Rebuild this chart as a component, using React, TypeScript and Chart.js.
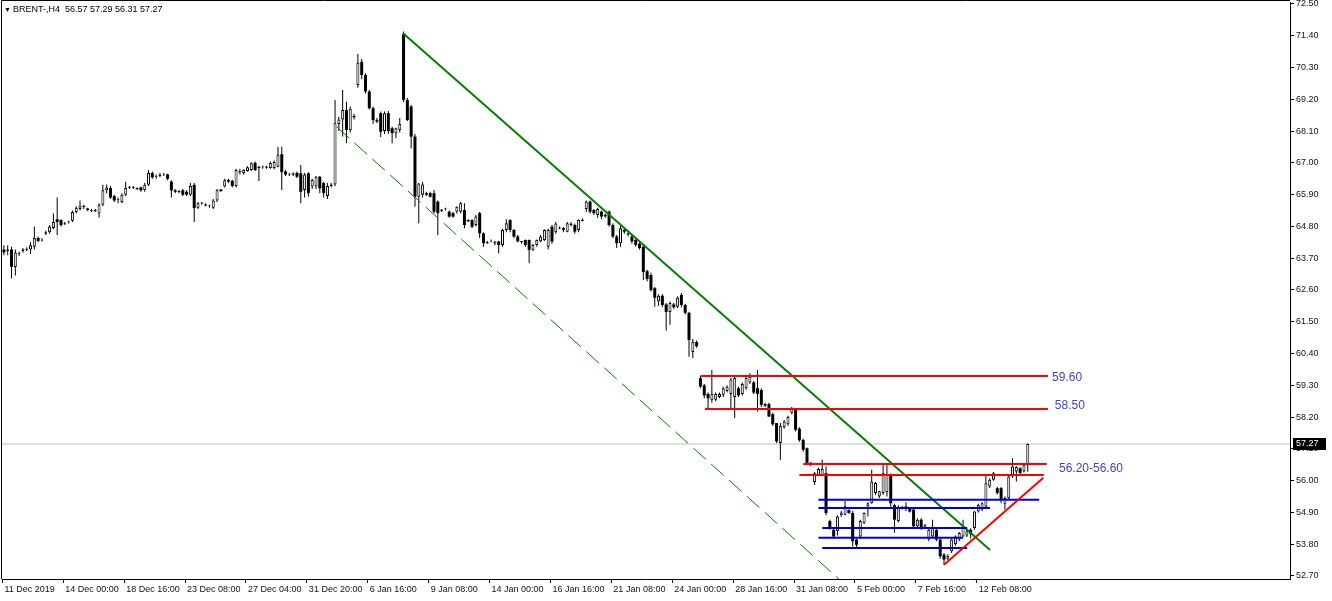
import React, { useEffect, useRef } from "react";
import { Chart, registerables } from "chart.js";

Chart.register(...registerables);

// ---------- DATA (H4 candles) ----------
const OPEN = [
  64.00, 63.95, 64.00, 63.40, 63.85, 63.95, 64.00, 64.00, 64.10, 64.40,
  64.32, 64.55, 64.60, 64.75, 65.05, 65.02, 64.90, 64.95, 65.00, 65.30,
  65.40, 65.50, 65.42, 65.35, 65.35, 65.25, 65.55, 66.05, 66.13, 65.85,
  65.72, 65.65, 65.90, 66.15, 66.15, 66.12, 66.15, 66.05, 66.24, 66.65,
  66.52, 66.55, 66.60, 66.60, 66.35, 66.05, 66.00, 66.05, 66.00, 65.90,
  66.24, 65.45, 65.60, 65.55, 65.50, 65.45, 65.70, 66.08, 66.18, 66.35,
  66.38, 66.20, 66.70, 66.65, 66.72, 66.75, 67.00, 66.85, 66.85, 66.86,
  66.82, 66.82, 66.87, 67.30, 66.70, 66.60, 66.62, 66.65, 66.64, 66.06,
  66.64, 66.18, 66.18, 66.52, 66.30, 65.85, 66.20, 66.25, 68.35, 68.50,
  68.83, 68.14, 68.62, 69.70, 70.50, 70.04, 69.47, 68.89, 68.48, 68.72,
  68.10, 68.72, 68.20, 68.03, 68.14, 71.45, 69.18, 68.95, 67.91, 65.83,
  65.90, 65.95, 65.95, 65.95, 65.66, 65.37, 65.40, 65.31, 65.26, 65.31,
  65.31, 65.37, 65.02, 65.02, 64.85, 65.26, 64.56, 64.25, 64.28, 64.25,
  64.28, 64.16, 64.68, 65.02, 64.68, 64.45, 64.28, 64.33, 64.33, 63.99,
  64.16, 64.28, 64.33, 64.10, 64.79, 64.60, 64.74, 64.74, 64.62, 64.85,
  64.85, 64.68, 65.02, 65.40, 65.66, 65.37, 65.20, 65.31, 65.20, 65.31,
  64.85, 64.45, 64.22, 64.68, 64.55, 64.45, 64.33, 64.20, 64.10, 63.25,
  63.12, 62.66, 62.20, 62.40, 62.10, 61.84, 62.10, 62.02, 62.43, 62.08,
  61.81, 60.45, 60.80, 59.55, 59.30, 59.00, 58.78, 58.80, 58.90, 58.97,
  59.10, 59.00, 58.90, 59.20, 59.00, 59.20, 59.40, 59.40, 59.20, 59.14,
  58.65, 58.65, 58.30, 57.99, 57.30, 57.85, 57.95, 58.35, 58.45, 57.80,
  57.41, 57.12, 56.62, 55.95, 56.20, 56.20, 56.26, 54.60, 54.30, 54.25,
  54.80, 54.82, 54.99, 54.88, 53.96, 54.07, 54.53, 55.11, 55.22, 55.57,
  55.45, 55.57, 55.60, 56.20, 55.15, 54.60, 55.05, 55.10, 55.05, 55.00,
  54.42, 54.65, 54.45, 53.96, 54.07, 54.30, 53.96, 53.44, 53.30, 53.56,
  53.80, 53.96, 54.07, 54.10, 54.30, 54.36, 54.93, 55.00, 55.10, 55.80,
  56.03, 55.74, 55.74, 55.20, 55.39, 56.14, 56.32, 56.43, 56.32, 56.57,
];
const HIGH = [
  64.15, 64.15, 64.10, 64.00, 63.92, 64.05, 64.08, 64.25, 64.80, 64.45,
  64.40, 64.65, 64.85, 65.25, 65.80, 65.05, 64.95, 65.00, 65.35, 65.50,
  65.70, 65.55, 65.45, 65.40, 65.40, 65.60, 66.24, 66.25, 66.20, 65.90,
  65.80, 65.95, 66.35, 66.20, 66.20, 66.15, 66.18, 66.30, 66.75, 66.70,
  66.60, 66.65, 66.65, 66.62, 66.40, 66.10, 66.05, 66.10, 66.05, 66.30,
  66.30, 65.65, 65.65, 65.60, 65.55, 65.75, 66.10, 66.10, 66.45, 66.45,
  66.42, 66.80, 66.80, 66.78, 66.88, 67.02, 67.05, 66.90, 66.90, 66.90,
  67.05, 67.08, 67.55, 67.56, 66.75, 66.65, 66.68, 66.70, 66.93, 66.65,
  66.68, 66.45, 66.55, 66.55, 66.35, 66.30, 66.30, 69.18, 68.60, 69.52,
  69.12, 68.95, 68.70, 70.77, 70.60, 70.10, 69.52, 68.95, 68.55, 68.78,
  68.78, 68.80, 68.25, 68.22, 68.55, 71.55, 69.25, 69.00, 68.00, 66.30,
  66.35, 66.00, 66.00, 66.06, 65.70, 65.40, 65.45, 65.35, 65.30, 65.50,
  65.65, 65.60, 65.05, 65.05, 65.20, 65.30, 64.60, 64.30, 64.35, 64.30,
  64.30, 64.72, 65.05, 65.05, 64.70, 64.50, 64.30, 64.35, 64.35, 64.20,
  64.35, 64.50, 64.70, 64.72, 64.85, 64.95, 64.80, 64.78, 64.95, 64.95,
  64.90, 65.05, 65.08, 65.70, 65.70, 65.40, 65.45, 65.35, 65.25, 65.35,
  64.90, 64.50, 64.85, 64.75, 64.60, 64.50, 64.38, 64.25, 64.15, 63.30,
  63.20, 62.70, 62.45, 62.45, 62.15, 62.20, 62.15, 62.38, 62.50, 62.12,
  61.85, 60.90, 60.85, 59.62, 59.35, 59.05, 59.83, 59.05, 59.05, 59.25,
  59.30, 59.55, 59.60, 59.25, 59.40, 59.60, 59.72, 59.45, 59.83, 59.20,
  58.70, 58.70, 58.35, 58.00, 58.00, 58.10, 58.25, 58.55, 58.50, 57.85,
  57.45, 57.15, 56.65, 56.30, 56.45, 56.72, 56.50, 54.65, 54.35, 54.80,
  54.95, 55.30, 55.00, 54.95, 54.00, 54.65, 54.90, 55.25, 56.38, 55.95,
  55.65, 56.55, 56.60, 56.25, 55.20, 55.15, 55.12, 55.25, 55.08, 55.05,
  54.70, 54.70, 54.50, 54.35, 54.65, 54.35, 54.00, 53.50, 53.45, 54.00,
  54.10, 54.22, 54.65, 54.30, 54.35, 54.95, 55.20, 55.25, 56.20, 56.08,
  56.30, 55.78, 55.78, 55.45, 56.18, 56.78, 56.50, 56.46, 56.58, 57.29,
];
const LOW = [
  63.80, 63.80, 63.00, 63.10, 63.78, 63.90, 63.95, 63.85, 64.00, 64.25,
  64.28, 64.50, 64.55, 64.70, 64.50, 64.80, 64.85, 64.90, 64.95, 65.25,
  65.35, 65.40, 65.33, 65.30, 65.30, 65.10, 65.50, 65.95, 65.75, 65.65,
  65.60, 65.60, 65.85, 66.10, 66.10, 66.05, 66.00, 66.00, 66.20, 66.45,
  66.45, 66.50, 66.55, 66.40, 65.80, 65.95, 65.95, 65.85, 65.85, 65.85,
  64.95, 65.40, 65.55, 65.50, 65.45, 65.40, 65.65, 66.00, 66.15, 66.30,
  66.15, 66.15, 66.60, 66.60, 66.70, 66.72, 66.72, 66.37, 66.80, 66.80,
  66.80, 66.78, 66.85, 66.06, 66.55, 66.55, 66.55, 66.48, 65.60, 65.80,
  65.83, 66.10, 66.10, 65.95, 65.80, 65.75, 66.15, 66.20, 68.10, 67.91,
  67.68, 68.05, 68.50, 69.60, 69.90, 69.40, 68.85, 68.35, 68.38, 67.90,
  68.00, 68.00, 67.68, 67.85, 68.05, 69.10, 68.45, 67.50, 65.48, 64.91,
  65.80, 65.85, 65.80, 65.25, 64.50, 65.30, 65.35, 65.10, 65.10, 65.25,
  65.25, 64.74, 64.95, 64.75, 64.80, 64.40, 64.10, 64.20, 64.25, 64.15,
  63.87, 64.10, 64.60, 64.60, 64.40, 64.25, 64.20, 64.10, 63.53, 63.95,
  64.10, 64.25, 64.30, 64.00, 64.20, 64.55, 64.70, 64.60, 64.60, 64.80,
  64.55, 64.60, 64.98, 65.30, 65.25, 65.20, 65.10, 65.05, 65.10, 64.80,
  64.40, 64.05, 64.10, 64.55, 64.45, 64.20, 64.10, 64.00, 62.95, 62.90,
  62.55, 62.02, 62.05, 62.00, 61.20, 61.40, 61.95, 61.98, 62.00, 61.75,
  60.29, 60.25, 60.60, 59.20, 58.85, 58.50, 58.70, 58.75, 58.85, 58.90,
  59.05, 58.50, 58.16, 58.90, 58.95, 59.15, 59.35, 59.00, 58.39, 58.55,
  58.55, 58.20, 57.90, 57.30, 56.72, 57.80, 57.90, 58.30, 57.70, 57.35,
  57.00, 56.55, 56.50, 55.85, 56.15, 56.15, 54.80, 54.30, 54.00, 54.10,
  54.75, 54.80, 54.85, 53.72, 53.68, 54.00, 54.50, 54.76, 55.20, 55.50,
  55.40, 55.50, 55.45, 55.10, 54.20, 54.55, 55.00, 54.95, 54.90, 54.35,
  54.38, 54.30, 54.40, 53.90, 54.05, 53.90, 53.30, 53.09, 53.25, 53.50,
  53.75, 53.90, 54.05, 54.05, 54.00, 54.30, 54.90, 54.95, 55.05, 55.75,
  56.00, 55.52, 55.22, 55.00, 55.35, 56.10, 55.97, 56.22, 56.28, 56.31,
];
const CLOSE = [
  63.90, 64.00, 63.40, 63.90, 63.87, 64.00, 64.02, 64.15, 64.40, 64.30,
  64.33, 64.60, 64.80, 64.95, 64.95, 64.85, 64.92, 64.97, 65.30, 65.45,
  65.50, 65.48, 65.37, 65.36, 65.34, 65.55, 66.05, 66.15, 65.80, 65.70,
  65.74, 65.90, 66.13, 66.16, 66.15, 66.10, 66.05, 66.24, 66.65, 66.50,
  66.53, 66.58, 66.62, 66.45, 66.05, 66.00, 66.02, 65.90, 65.90, 66.20,
  65.44, 65.60, 65.62, 65.53, 65.52, 65.70, 66.05, 66.02, 66.40, 66.41,
  66.20, 66.75, 66.68, 66.75, 66.85, 66.99, 66.75, 66.83, 66.87, 66.85,
  67.00, 67.03, 67.28, 66.68, 66.60, 66.62, 66.60, 66.52, 66.00, 66.60,
  65.95, 66.41, 66.52, 66.12, 65.95, 66.20, 66.25, 68.37, 68.50, 68.83,
  68.14, 68.87, 68.58, 70.47, 70.04, 69.47, 68.89, 68.48, 68.43, 68.08,
  68.72, 68.10, 68.03, 68.20, 68.35, 69.18, 68.48, 67.91, 65.83, 66.29,
  66.25, 65.90, 65.83, 65.31, 65.26, 65.35, 65.42, 65.14, 65.14, 65.48,
  65.60, 64.85, 64.98, 64.79, 65.14, 64.56, 64.22, 64.22, 64.30, 64.22,
  64.16, 64.68, 64.91, 64.68, 64.45, 64.28, 64.27, 64.16, 63.99, 64.16,
  64.33, 64.45, 64.68, 64.68, 64.28, 64.90, 64.75, 64.68, 64.91, 64.90,
  64.62, 65.02, 65.00, 65.66, 65.31, 65.26, 65.40, 65.14, 65.15, 64.85,
  64.45, 64.22, 64.74, 64.62, 64.53, 64.28, 64.16, 64.05, 63.22, 62.98,
  62.60, 62.33, 62.40, 62.08, 61.84, 62.15, 62.00, 62.33, 62.08, 61.81,
  60.87, 60.80, 60.65, 59.26, 58.95, 58.85, 59.00, 59.00, 59.00, 59.20,
  59.25, 59.50, 59.55, 58.95, 59.35, 59.55, 59.60, 59.05, 59.00, 58.62,
  58.60, 58.22, 57.95, 57.36, 57.90, 58.05, 58.20, 58.50, 57.76, 57.40,
  57.07, 56.61, 56.58, 56.26, 56.40, 56.40, 54.88, 54.36, 54.07, 54.76,
  54.90, 55.11, 54.88, 53.90, 53.78, 54.60, 54.88, 55.22, 55.97, 55.92,
  55.63, 56.26, 56.20, 55.22, 54.65, 55.10, 55.08, 55.08, 54.93, 54.42,
  54.65, 54.36, 54.42, 54.30, 54.36, 53.96, 53.38, 53.27, 53.40, 53.96,
  54.07, 54.19, 54.42, 54.25, 54.15, 54.93, 55.16, 55.22, 55.91, 56.03,
  56.26, 55.57, 55.33, 55.40, 56.14, 56.49, 56.47, 56.26, 56.55, 57.27,
];

const SYMBOL = "BRENT-,H4";
const X_LABELS = [
  "11 Dec 2019", "14 Dec 00:00", "18 Dec 16:00", "23 Dec 08:00", "27 Dec 04:00",
  "31 Dec 20:00", "6 Jan 16:00", "9 Jan 08:00", "14 Jan 00:00", "16 Jan 16:00",
  "21 Jan 08:00", "24 Jan 00:00", "28 Jan 16:00", "31 Jan 08:00", "5 Feb 00:00",
  "7 Feb 16:00", "12 Feb 08:00",
];
const BARS_PER_LABEL = 16;
const Y_TICKS = [
  52.7, 53.8, 54.9, 56.0, 57.1, 58.2, 59.3, 60.4, 61.5, 62.6,
  63.7, 64.8, 65.9, 67.0, 68.1, 69.2, 70.3, 71.4, 72.5,
];

// drawn objects, in (bar index, price)
const GREEN_TREND = [104.8, 71.5, 259.1, 53.6];
const GREEN_CHANNEL = [87.4, 68.25, 221.0, 52.4];
const RED_TREND = [247.0, 53.09, 273.1, 56.1];
const RED_LEVELS = [59.62, 58.48, 56.58, 56.2];
const RED_FROM = [183.0, 184.2, 210.0, 209.0];
const RED_TO = [274.3, 274.3, 274.0, 273.2];
const BLUE_LEVELS = [55.34, 55.05, 54.36, 54.02, 53.67];
const BLUE_FROM = [214.0, 214.0, 215.0, 214.0, 215.0];
const BLUE_TO = [272.0, 259.1, 253.1, 252.0, 253.1];
const NOTE_TEXT = ["59.60", "58.50", "56.20-56.60"];
const NOTE_X = [275.4, 276.1, 277.2];
const NOTE_Y = [59.57, 58.61, 56.41];

// ---------- view ----------
const X_MIN = -0.5;
const X_MAX = 337.9;
const Y_MIN = 52.596;
const Y_MAX = 72.569;
const FONT_FAMILY = '"Liberation Sans", Arial, sans-serif';

function seg(x1: number, y1: number, x2: number, y2: number) {
  return [{ x: x1, y: y1 }, { x: x2, y: y2 }];
}

function lineDs(data: any[], color: string, width: number, dash: number[] = [], order = 1) {
  return {
    type: "line" as const,
    data,
    borderColor: color,
    backgroundColor: color,
    borderWidth: width,
    borderDash: dash,
    pointRadius: 0,
    tension: 0,
    fill: false,
    order,
  };
}

export default function App() {
  const ref = useRef<HTMLCanvasElement | null>(null);

  useEffect(() => {
    const canvas = ref.current;
    if (!canvas) return;

    const n = CLOSE.length;
    const wicks: any[] = [];
    const upBodies: any[] = [];
    const downBodies: any[] = [];
    const minH = 0.03;
    for (let i = 0; i < n; i++) {
      const o = OPEN[i], c = CLOSE[i];
      const lo = Math.min(LOW[i], o, c), hi = Math.max(HIGH[i], o, c);
      wicks.push({ x: i, y: [lo, hi] });
      let b0 = Math.min(o, c), b1 = Math.max(o, c);
      if (b1 - b0 < minH) {
        const m = (b0 + b1) / 2;
        b0 = m - minH / 2;
        b1 = m + minH / 2;
      }
      if (c >= o) upBodies.push({ x: i, y: [b0, b1] });
      else downBodies.push({ x: i, y: [b0, b1] });
    }

    const last = n - 1;
    const datasets: any[] = [
      lineDs(seg(X_MIN, CLOSE[last], X_MAX, CLOSE[last]), "#c0c0c0", 1, [], 20),
      {
        type: "bar",
        data: wicks,
        backgroundColor: "#000",
        borderWidth: 0,
        barThickness: 1,
        grouped: false,
        inflateAmount: 0,
        order: 10,
      },
      {
        type: "bar",
        data: upBodies,
        backgroundColor: "#fff",
        borderColor: "#000",
        borderWidth: 1,
        borderSkipped: false,
        barThickness: 3,
        grouped: false,
        inflateAmount: 0,
        order: 9,
      },
      {
        type: "bar",
        data: downBodies,
        backgroundColor: "#000",
        borderColor: "#000",
        borderWidth: 0,
        borderSkipped: false,
        barThickness: 3,
        grouped: false,
        inflateAmount: 0,
        order: 9,
      },
      lineDs(seg(GREEN_CHANNEL[0], GREEN_CHANNEL[1], GREEN_CHANNEL[2], GREEN_CHANNEL[3]), "#008000", 1, [17, 7], 3),
      lineDs(seg(GREEN_TREND[0], GREEN_TREND[1], GREEN_TREND[2], GREEN_TREND[3]), "#008000", 2, [], 2),
    ];
    RED_LEVELS.forEach((v, k) => datasets.push(lineDs(seg(RED_FROM[k], v, RED_TO[k], v), "#ff0000", 2, [], 1)));
    BLUE_LEVELS.forEach((v, k) => datasets.push(lineDs(seg(BLUE_FROM[k], v, BLUE_TO[k], v), "#0000dd", 2, [], 1)));
    datasets.push(lineDs(seg(RED_TREND[0], RED_TREND[1], RED_TREND[2], RED_TREND[3]), "#ff0000", 2, [], 0));

    const xTickPos = X_LABELS.map((_, k) => k * BARS_PER_LABEL - 0.4);

    const overlay = {
      id: "overlay",
      afterDraw(chart: any) {
        const { ctx, chartArea: a, scales } = chart;
        const xs = scales.x, ys = scales.y;
        ctx.save();
        // frame (left and top)
        ctx.strokeStyle = "#000";
        ctx.lineWidth = 1;
        ctx.beginPath();
        ctx.moveTo(a.left - 0.5, a.bottom);
        ctx.lineTo(a.left - 0.5, a.top - 1.5);
        ctx.lineTo(a.right, a.top - 1.5);
        ctx.stroke();

        // header
        ctx.fillStyle = "#000";
        ctx.textAlign = "left";
        ctx.textBaseline = "middle";
        ctx.font = `7px ${FONT_FAMILY}`;
        ctx.fillText("\u25BC", 4, 10);
        ctx.font = `9px ${FONT_FAMILY}`;
        const fmt = (v: number) => v.toFixed(2);
        ctx.fillText(
          `${SYMBOL}  ${fmt(OPEN[last])} ${fmt(HIGH[last])} ${fmt(LOW[last])} ${fmt(CLOSE[last])}`,
          13,
          10
        );

        // level notes
        ctx.fillStyle = "#4141d2";
        ctx.font = `12px ${FONT_FAMILY}`;
        NOTE_TEXT.forEach((t, k) => {
          ctx.fillText(t, xs.getPixelForValue(NOTE_X[k]), ys.getPixelForValue(NOTE_Y[k]));
        });

        // last price box on the price axis
        const py = ys.getPixelForValue(CLOSE[last]);
        ctx.fillStyle = "#000";
        ctx.fillRect(a.right + 3, Math.round(py) - 6, 33, 12);
        ctx.fillStyle = "#fff";
        ctx.font = `9px ${FONT_FAMILY}`;
        ctx.fillText(fmt(CLOSE[last]), a.right + 6, py);
        ctx.restore();
      },
    };

    const chart = new Chart(canvas, {
      type: "bar",
      data: { datasets },
      options: {
        animation: false,
        responsive: false,
        maintainAspectRatio: false,
        events: [],
        layout: { padding: { left: 2, top: 2, right: 0, bottom: 0 } },
        plugins: {
          legend: { display: false },
          tooltip: { enabled: false },
          title: { display: false },
        },
        scales: {
          x: {
            type: "linear",
            min: X_MIN,
            max: X_MAX,
            offset: false,
            grid: {
              display: true,
              drawOnChartArea: false,
              drawTicks: true,
              tickLength: 4,
              color: "#000",
              lineWidth: 1,
              offset: false,
            },
            border: { display: true, color: "#000", width: 1 },
            ticks: {
              autoSkip: false,
              maxRotation: 0,
              minRotation: 0,
              align: "start",
              labelOffset: 2,
              padding: 1,
              color: "#111",
              font: { family: FONT_FAMILY, size: 9 },
              callback: (_v: any, idx: number) => X_LABELS[idx] ?? "",
            },
            afterBuildTicks: (s: any) => {
              s.ticks = xTickPos.map((v) => ({ value: v }));
            },
            afterFit: (s: any) => {
              s.height = 22;
              s.paddingLeft = 0;
              s.paddingRight = 0;
            },
          },
          y: {
            type: "linear",
            position: "right",
            min: Y_MIN,
            max: Y_MAX,
            grid: {
              display: true,
              drawOnChartArea: false,
              drawTicks: true,
              tickLength: 4,
              color: "#000",
              lineWidth: 1,
            },
            border: { display: true, color: "#000", width: 1 },
            ticks: {
              autoSkip: false,
              padding: 2,
              color: "#111",
              font: { family: FONT_FAMILY, size: 9 },
              callback: (v: any) => Number(v).toFixed(2),
            },
            afterBuildTicks: (s: any) => {
              s.ticks = Y_TICKS.map((v) => ({ value: v }));
            },
            afterFit: (s: any) => {
              s.width = 42;
              s.paddingTop = 0;
              s.paddingBottom = 0;
            },
          },
        },
      } as any,
      plugins: [overlay],
    });

    return () => chart.destroy();
  }, []);

  return (
    <div style={{ position: "fixed", left: 0, top: 0, width: 1332, height: 601, background: "#fff" }}>
      <canvas ref={ref} width={1332} height={601} style={{ display: "block", width: 1332, height: 601 }} />
    </div>
  );
}
